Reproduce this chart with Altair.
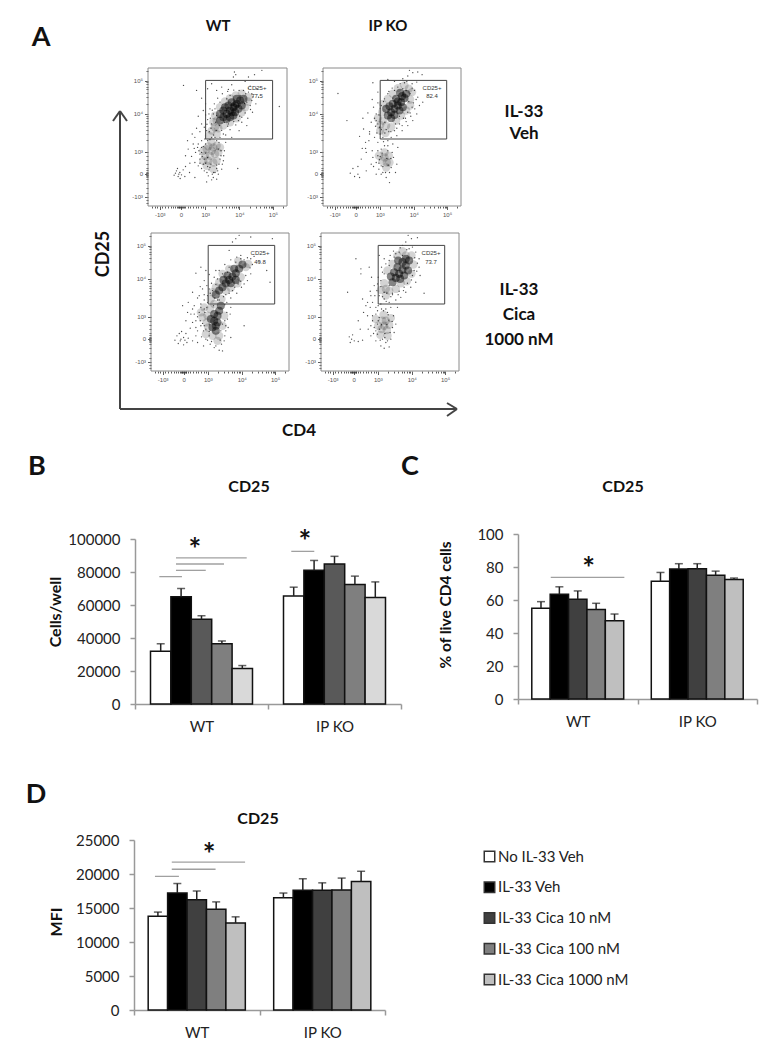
import altair as alt

W, H = 759, 1034
FONT = "Lato"

GROUPS = ["WT", "IP KO"]
TREATMENTS = ["No IL-33 Veh", "IL-33 Veh", "IL-33 Cica 10 nM", "IL-33 Cica 100 nM", "IL-33 Cica 1000 nM"]
COLORS_B = ["#ffffff", "#000000", "#595959", "#7f7f7f", "#d9d9d9"]
COLORS_CD = ["#ffffff", "#000000", "#404040", "#7f7f7f", "#bfbfbf"]

B_MEAN = [32000, 65000, 51300, 36500, 21500, 65500, 81000, 84800, 72500, 64500]
B_HIGH = [36500, 70000, 53500, 38200, 23300, 70800, 87000, 89500, 77500, 74000]
C_MEAN = [55, 63.5, 60.5, 54.3, 47.5, 71.3, 78.8, 79, 75, 72.5]
C_HIGH = [59, 68, 65.5, 58, 51.5, 76.7, 82, 82, 77.5, 73.3]
D_MEAN = [13800, 17200, 16200, 14800, 12800, 16500, 17600, 17600, 17650, 18900]
D_HIGH = [14400, 18600, 17500, 15900, 13700, 17200, 19300, 18700, 19400, 20400]

# significance lines: start, end (in group widths from the axis), height in axis units
B_SIG = [(.308, .84, 88500), (.308, .669, 84850), (.308, .532, 81000), (.183, .353, 77200), (1.175, 1.348, 92500)]
B_STARS = [(.451, 95750), (1.278, 100600)]
C_SIG = [(.274, .89, 73.7)]
C_STARS = [(.592, 81)]
D_SIG = [(.301, .885, 21760), (.301, .65, 20700), (.167, .358, 19650)]
D_STARS = [(.598, 23400)]

# flow cytometry, in plot channel units
X_MAJOR = {35: "-10³", 98: "0", 171: "10³", 273: "10⁴", 373: "10⁵"}
Y_MAJOR = {27: "-10³", 96: "0", 162: "10³", 275: "10⁴", 374: "10⁵"}
X_TICKS = [12, 20, 28, 35, 43, 52, 60, 68, 76, 82, 86, 90, 92, 94, 96, 98, 100, 102, 104, 106, 110, 118, 126, 134, 142, 150, 158, 165, 171, 202, 220, 233, 243, 251, 258, 264, 269, 273, 304, 322, 335, 345, 353, 360, 366, 370, 373, 403]
Y_TICKS = [10, 18, 27, 40, 55, 70, 80, 86, 90, 92, 94, 96, 98, 100, 102, 106, 112, 125, 138, 150, 162, 196, 215, 228, 238, 247, 255, 262, 269, 275, 305, 325, 338, 348, 356, 363, 369, 374, 404]
GATE = [{"x": 172, "x2": 372, "y": 200, "y2": 375}]
FRAME = [{"x": 0, "x2": 415, "y": 0, "y2": 412}]

P1_CORE = [(215, 255), (225, 265), (235, 275), (245, 285), (255, 295), (265, 305), (275, 315), (240, 300), (260, 280), (225, 285), (250, 310), (270, 290), (235, 260), (215, 275), (285, 320), (255, 270), (230, 295), (245, 265), (265, 320), (280, 300), (260, 300), (250, 280)]
P1_MID = [(200, 235), (190, 225), (205, 215), (182, 210), (175, 170), (185, 150), (195, 130), (190, 165), (200, 155), (180, 135), (195, 110), (205, 180), (190, 190), (170, 150), (300, 325), (205, 255), (290, 295), (200, 270), (215, 295), (230, 312), (245, 322), (262, 330), (280, 335), (298, 312), (280, 280), (265, 262), (245, 250), (225, 240), (210, 232), (195, 250), (165, 165), (180, 178), (210, 160), (205, 135), (175, 120), (165, 135), (215, 175), (195, 175)]
P1_DOTS = [(258, 400), (262, 392), (255, 385), (300, 385), (318, 392), (340, 405), (290, 372), (106, 360), (145, 345), (178, 350), (190, 365), (205, 345), (220, 355), (240, 348), (250, 362), (272, 345), (305, 358), (325, 350), (310, 335), (330, 325), (322, 305), (312, 280), (298, 262), (280, 250), (262, 242), (245, 228), (232, 212), (250, 205), (272, 225), (295, 240), (160, 322), (172, 305), (165, 285), (150, 268), (172, 272), (185, 290), (178, 258), (160, 245), (145, 232), (132, 215), (118, 195), (140, 205), (155, 222), (168, 235), (120, 170), (135, 185), (148, 175), (160, 195), (130, 148), (142, 160), (155, 140), (165, 125), (150, 120), (140, 130), (168, 105), (180, 90), (195, 85), (210, 95), (220, 110), (225, 135), (228, 165), (232, 190), (215, 205), (218, 150), (212, 125), (200, 100), (185, 115), (160, 160), (170, 200), (150, 185), (175, 225), (190, 245), (205, 195), (225, 215), (240, 245), (78, 92), (85, 105), (90, 88), (95, 100), (88, 112), (100, 93), (105, 108), (82, 98), (96, 82), (110, 88), (92, 95), (112, 118), (124, 100), (140, 85), (175, 72), (205, 80), (268, 112), (392, 297), (245, 330), (285, 345), (300, 340), (295, 310), (310, 315), (235, 320), (215, 310), (200, 290), (205, 270), (195, 275), (280, 265), (270, 255), (305, 300), (190, 205), (178, 195), (165, 178), (210, 170), (215, 140), (168, 140), (178, 118), (192, 95), (205, 112), (155, 155), (138, 172), (125, 128), (112, 150),
           (186, 262), (192, 286), (198, 305), (208, 322), (222, 335), (238, 342), (256, 346), (292, 335), (314, 326), (306, 288), (290, 278), (274, 268), (256, 252), (238, 238), (220, 226), (204, 226), (188, 232), (176, 244), (183, 222), (196, 212), (212, 242), (228, 250), (182, 275), (202, 250), (214, 240), (300, 352), (275, 330), (288, 306), (160, 175), (152, 165), (172, 158), (178, 145), (162, 148), (155, 128), (172, 128), (188, 125), (205, 122), (222, 125), (226, 150), (218, 165), (212, 190), (200, 205), (185, 198), (172, 185), (182, 108), (196, 100), (208, 105), (190, 78), (176, 100), (160, 112)]

P2_CORE = [(195, 270), (205, 280), (215, 290), (225, 300), (235, 310), (245, 322), (210, 305), (230, 285), (220, 320), (240, 295), (190, 290), (250, 335), (205, 262), (232, 338), (215, 272), (225, 312), (200, 298), (238, 328)]
P2_MID = [(180, 255), (172, 242), (190, 240), (205, 235), (165, 262), (258, 350), (262, 318), (178, 280), (185, 145), (192, 130), (178, 135), (190, 115), (185, 160), (198, 150), (220, 255), (235, 270), (250, 285), (262, 300), (180, 305), (195, 320), (210, 335), (225, 352), (245, 360), (268, 340), (172, 225), (188, 218), (168, 150), (200, 130)]
P2_DOTS = [(260, 405), (270, 398), (255, 388), (285, 400), (298, 392), (240, 380), (245, 368), (268, 365), (282, 370), (215, 372), (195, 378), (165, 340), (150, 368), (45, 336), (148, 318), (165, 308), (152, 295), (135, 278), (120, 262), (72, 255), (145, 250), (158, 238), (140, 222), (122, 230), (110, 208), (128, 190), (118, 172), (138, 195), (155, 205), (172, 215), (186, 218), (205, 205), (222, 210), (238, 225), (255, 240), (270, 255), (282, 275), (290, 300), (285, 325), (275, 345), (300, 310), (262, 278), (248, 262), (230, 245), (215, 225), (198, 222), (180, 205), (165, 190), (148, 165), (130, 160), (115, 140), (105, 118), (90, 112), (82, 98), (95, 88), (110, 85), (130, 105), (145, 125), (150, 145), (160, 130), (168, 110), (175, 95), (190, 85), (200, 70), (218, 100), (222, 125), (212, 145), (225, 175), (210, 185), (195, 195), (185, 180), (175, 170), (165, 150), (180, 100), (205, 115), (160, 95), (175, 120), (195, 165), (140, 215), (170, 235), (185, 320), (175, 300), (195, 335), (215, 345), (225, 355), (240, 350), (262, 335), (255, 280), (268, 295), (272, 308), (200, 100), (152, 118), (105, 95), (128, 172), (230, 268), (160, 275),
           (160, 255), (168, 272), (172, 292), (182, 312), (198, 342), (208, 352), (232, 365), (252, 372), (268, 352), (280, 318), (276, 290), (264, 268), (250, 252), (238, 240), (222, 232), (204, 222), (190, 228), (176, 228), (162, 218), (155, 262), (165, 245), (186, 250), (242, 262), (218, 245), (258, 312), (250, 345), (210, 322), (178, 158), (170, 138), (165, 165), (196, 122), (204, 142), (180, 118), (188, 100), (172, 148), (208, 160), (195, 180), (182, 192), (168, 128), (192, 142)]

P3_CORE = [(195, 228), (205, 240), (215, 250), (225, 262), (235, 272), (245, 282), (255, 292), (265, 305), (218, 272), (240, 262), (250, 305), (275, 318), (190, 150), (195, 135), (200, 165), (185, 130), (205, 180), (195, 120), (210, 195), (180, 155), (230, 285), (255, 272), (190, 170), (200, 145)]
P3_MID = [(170, 165), (178, 185), (190, 200), (172, 130), (205, 105), (200, 90), (185, 105), (220, 165), (212, 215), (180, 215), (285, 310), (292, 320), (270, 280), (205, 265), (168, 145), (155, 160), (225, 240), (240, 248), (260, 262), (195, 250), (215, 290), (235, 305), (262, 328), (160, 190), (150, 175), (215, 135), (165, 110), (185, 235)]
P3_DOTS = [(265, 405), (255, 395), (245, 385), (300, 400), (365, 395), (235, 360), (270, 345), (290, 338), (310, 342), (325, 328), (305, 318), (300, 290), (290, 270), (272, 250), (258, 232), (240, 218), (228, 205), (150, 310), (135, 292), (165, 300), (175, 288), (160, 270), (148, 252), (125, 235), (160, 228), (140, 218), (112, 205), (95, 195), (130, 195), (150, 200), (160, 185), (120, 170), (105, 150), (135, 150), (118, 128), (140, 120), (152, 102), (125, 90), (165, 95), (178, 80), (190, 70), (205, 62), (212, 80), (222, 105), (232, 130), (238, 170), (240, 190), (358, 265), (348, 300), (280, 135), (72, 92), (78, 105), (85, 112), (92, 118), (105, 112), (112, 98), (108, 85), (98, 78), (82, 82), (90, 95), (98, 100), (88, 90), (102, 92), (150, 135), (165, 125), (175, 105), (145, 175), (130, 170), (225, 135), (230, 155), (215, 140), (170, 205), (185, 240), (175, 245), (168, 255), (200, 275), (195, 258), (230, 295), (215, 290), (235, 310), (255, 325), (270, 335), (300, 335), (280, 260), (262, 260), (245, 240), (225, 228), (220, 90), (240, 100), (215, 60), (158, 75), (140, 85), (195, 300), (125, 145), (135, 105), (155, 142), (110, 175), (145, 225), (155, 245),
           (182, 262), (190, 280), (205, 300), (222, 318), (240, 332), (258, 340), (280, 332), (298, 308), (285, 285), (270, 268), (252, 250), (235, 232), (218, 222), (200, 212), (178, 232), (170, 225), (160, 212), (150, 190), (140, 162), (148, 150), (158, 120), (170, 92), (182, 88), (195, 75), (208, 92), (225, 120), (222, 150), (228, 175), (222, 198), (205, 212), (192, 218), (162, 175), (168, 190), (175, 140), (210, 120), (188, 195), (160, 135), (175, 118), (135, 130), (125, 185)]

P4_CORE = [(215, 265), (225, 278), (235, 290), (245, 302), (255, 315), (265, 330), (230, 310), (250, 285), (220, 295), (245, 325), (262, 300), (210, 282), (238, 275), (232, 330), (255, 335)]
P4_MID = [(195, 245), (205, 240), (225, 245), (240, 262), (190, 262), (200, 300), (272, 345), (278, 318), (255, 345), (190, 135), (198, 122), (182, 125), (195, 150), (185, 150), (200, 105), (205, 138), (178, 108), (258, 268), (272, 290), (215, 320), (230, 345), (245, 358), (195, 225), (180, 242), (172, 135), (210, 158), (188, 168), (165, 155)]
P4_DOTS = [(262, 405), (272, 395), (255, 385), (245, 375), (290, 398), (265, 365), (235, 355), (220, 340), (285, 355), (295, 335), (295, 310), (298, 285), (285, 265), (270, 250), (255, 235), (240, 220), (225, 212), (205, 205), (190, 215), (175, 225), (180, 270), (185, 295), (195, 320), (175, 345), (190, 290), (105, 335), (120, 305), (145, 310), (152, 280), (160, 255), (148, 238), (140, 205), (125, 215), (80, 235), (155, 205), (165, 190), (128, 175), (112, 150), (118, 125), (140, 165), (155, 165), (170, 180), (195, 185), (210, 190), (230, 190), (310, 232), (218, 165), (225, 140), (220, 115), (210, 95), (195, 85), (180, 75), (165, 90), (150, 105), (142, 125), (160, 130), (155, 150), (170, 140), (170, 110), (85, 102), (92, 95), (88, 85), (95, 108), (100, 90), (112, 88), (125, 92), (190, 68), (205, 72), (120, 290), (280, 300), (275, 285), (260, 262), (235, 238), (210, 222), (190, 235), (170, 260), (205, 330), (225, 350), (245, 345), (180, 200), (200, 175), (175, 160), (215, 130), (185, 95), (200, 90), (165, 120), (148, 190), (135, 195), (150, 225), (205, 255), (275, 370),
           (180, 252), (172, 280), (182, 310), (190, 335), (208, 345), (218, 358), (238, 368), (258, 362), (282, 338), (290, 322), (288, 298), (272, 272), (250, 250), (232, 228), (215, 232), (198, 232), (185, 222), (168, 240), (162, 225), (205, 315), (215, 228), (248, 240), (196, 208), (182, 185), (172, 195), (165, 170), (150, 135), (158, 112), (178, 92), (192, 100), (208, 115), (214, 148), (202, 168), (188, 180), (172, 150), (182, 138), (192, 112), (204, 152), (176, 125), (198, 138)]

TEXTS = [
    ("A", 41, 38, 27, "bold", 0), ("B", 37, 467, 27, "bold", 0), ("C", 410, 467, 27, "bold", 0), ("D", 36, 795, 27, "bold", 0),
    ("WT", 218, 26, 15, "bold", 0), ("IP KO", 388, 26, 15, "bold", 0),
    ("IL-33", 524, 112, 17, "bold", 0), ("Veh", 524, 134, 17, "bold", 0),
    ("IL-33", 519, 290, 17, "bold", 0), ("Cica", 519, 315, 17, "bold", 0), ("1000 nM", 519, 340, 17, "bold", 0),
    ("CD25", 104, 254, 18, "bold", 270), ("CD4", 299, 431, 17, "bold", 0),
    ("CD25", 249, 487, 16, "bold", 0), ("CD25", 623, 487, 16, "bold", 0), ("CD25", 258, 819, 16, "bold", 0),
    ("Cells/well", 56, 612, 16, "bold", 270), ("% of live CD4 cells", 446, 605, 15.5, "bold", 270), ("MFI", 57, 922, 16, "bold", 270),
]
FLOW_NOTES = [("CD25+", 257, 88), ("77.5", 257, 96), ("CD25+", 432, 88), ("82.4", 432, 96),
              ("CD25+", 260, 253), ("49.8", 260, 262), ("CD25+", 431, 253), ("73.7", 431, 262)]
ARROW_SEGMENTS = [(120, 111, 120, 409), (113, 121, 120, 111), (127, 121, 120, 111), (120, 409, 457, 409), (447, 403, 457, 409), (447, 416, 457, 409)]


def label(s, x, y, size, weight="normal", angle=0, color="#111111", font=FONT):
    return alt.Chart(alt.Data(values=[{"t": s}])).mark_text(
        fontSize=size, fontWeight=weight, angle=angle, font=font, color=color,
        align="center", baseline="middle").encode(
        text="t:N", x=alt.value(x - 8), y=alt.value(y - 8))


def bars_panel(mean, high, colors, ymax, yticks, x0, x1, y0, y1, sig, stars, pad, legend=None):
    rows = [{"group": GROUPS[i // 5], "treatment": TREATMENTS[i % 5], "mean": mean[i], "high": high[i]} for i in range(10)]
    data = alt.Data(values=rows)
    xs = alt.Scale(domain=GROUPS, range=[x0 - 8, x1 - 8], paddingInner=0, paddingOuter=0)
    xo = alt.Scale(domain=TREATMENTS, paddingInner=0, paddingOuter=pad)
    ys = alt.Scale(domain=[0, ymax], range=[y0 - 8, y1 - 8], nice=False, zero=False)
    xaxis = alt.Axis(orient="bottom", offset=-(H - (y0 - 8)), title=None, tickBand="extent", labelAngle=0, domainColor="#999999",
                     domainWidth=1.5, tickColor="#999999", tickWidth=1.5, tickSize=5, labelPadding=10, labelFontSize=15,
                     labelFont=FONT, labelColor="#222222", grid=False)
    yaxis = alt.Axis(orient="left", offset=-(x0 - 8), title=None, values=yticks, domainColor="#999999", domainWidth=1.5,
                     tickColor="#999999", tickWidth=1.5, tickSize=5, labelPadding=10, labelFontSize=15, labelFont=FONT,
                     labelColor="#222222", grid=False, format="d")
    bar = alt.Chart(data).mark_bar(stroke="#111111", strokeWidth=1.5).encode(
        x=alt.X("group:N", scale=xs, axis=xaxis),
        xOffset=alt.XOffset("treatment:N", scale=xo),
        y=alt.Y("mean:Q", scale=ys, axis=yaxis),
        color=alt.Color("treatment:N", scale=alt.Scale(domain=TREATMENTS, range=colors), legend=legend))
    err = alt.Chart(data).mark_rule(color="#222222", strokeWidth=1.5).encode(
        x=alt.X("group:N", scale=xs, axis=xaxis),
        xOffset=alt.XOffset("treatment:N", scale=xo),
        y=alt.Y("mean:Q", scale=ys, axis=yaxis), y2="high:Q")
    cap = alt.Chart(data).mark_tick(color="#222222", thickness=1.5, size=8, orient="horizontal").encode(
        x=alt.X("group:N", scale=xs, axis=xaxis),
        xOffset=alt.XOffset("treatment:N", scale=xo),
        y=alt.Y("high:Q", scale=ys, axis=yaxis))
    us = alt.Scale(domain=[0, 2], range=[x0 - 8, x1 - 8], nice=False, zero=False)
    sig_rows = [{"a": a, "b": b, "v": v} for a, b, v in sig]
    star_rows = [{"a": a, "v": v} for a, v in stars]
    lines = alt.Chart(alt.Data(values=sig_rows)).mark_rule(color="#a0a0a0", strokeWidth=1.3).encode(
        x=alt.X("a:Q", scale=us, axis=None), x2="b:Q", y=alt.Y("v:Q", scale=ys, axis=None))
    star = alt.Chart(alt.Data(values=star_rows)).mark_text(text="*", fontSize=30, fontWeight="bold", font=FONT, color="#111111", baseline="middle", dy=5).encode(
        x=alt.X("a:Q", scale=us, axis=None), y=alt.Y("v:Q", scale=ys, axis=None))
    return [alt.layer(bar, err, cap), alt.layer(lines, star)]


def flow_panel(core, mid, dots, x0, x1, y0, y1):
    xs = alt.Scale(domain=[0, 415], range=[x0 - 8, x1 - 8], nice=False, zero=False)
    ys = alt.Scale(domain=[0, 412], range=[y0 - 8, y1 - 8], nice=False, zero=False)
    def axis(orient, offset, values, major):
        expr = " : ".join(f"datum.value == {k} ? '{v}'" for k, v in major.items()) + " : ''"
        test = " || ".join(f"datum.value == {k}" for k in major)
        return alt.Axis(orient=orient, offset=offset, title=None, values=values, domain=False, grid=False, labelExpr=expr,
                        labelFontSize=6, labelFont="Liberation Sans", labelColor="#555555", labelOverlap=False, labelPadding=2,
                        tickColor="#333333", tickWidth=0.8,
                        tickSize={"condition": {"test": test, "value": 3.5}, "value": 2})
    xa = axis("bottom", -(H - (y0 - 8)), X_TICKS, X_MAJOR)
    ya = axis("left", -(x0 - 8), Y_TICKS, Y_MAJOR)
    frame = alt.Chart(alt.Data(values=FRAME)).mark_rect(fillOpacity=0, stroke="#8a8a8a", strokeWidth=1).encode(
        x=alt.X("x:Q", scale=xs, axis=xa), x2="x2:Q", y=alt.Y("y:Q", scale=ys, axis=ya), y2="y2:Q")
    def cloud(points, size, opacity):
        return alt.Chart(alt.Data(values=[{"x": a, "y": b} for a, b in points])).mark_circle(size=size, opacity=opacity, color="#000000").encode(
            x=alt.X("x:Q", scale=xs, axis=xa), y=alt.Y("y:Q", scale=ys, axis=ya))
    gate = alt.Chart(alt.Data(values=GATE)).mark_rect(fillOpacity=0, stroke="#444444", strokeWidth=1).encode(
        x=alt.X("x:Q", scale=xs, axis=xa), x2="x2:Q", y=alt.Y("y:Q", scale=ys, axis=ya), y2="y2:Q")
    return alt.layer(frame, cloud(mid, 70, 0.17), cloud(core, 65, 0.48), cloud(dots, 1.8, 0.7), gate)


legend = alt.Legend(orient="none", legendX=474, legendY=841, title=None, symbolType="square", symbolSize=110,
                    symbolStrokeColor="#333333", symbolStrokeWidth=1.5, labelFont=FONT, labelFontSize=15,
                    labelColor="#222222", rowPadding=13.75, labelOffset=1)

children = []
children += [flow_panel(P1_CORE, P1_MID, P1_DOTS, 148, 287, 206, 68),
             flow_panel(P2_CORE, P2_MID, P2_DOTS, 323, 461, 206, 68),
             flow_panel(P3_CORE, P3_MID, P3_DOTS, 151, 289, 371, 233),
             flow_panel(P4_CORE, P4_MID, P4_DOTS, 321, 459, 371, 233)]
children += bars_panel(B_MEAN, B_HIGH, COLORS_B, 100000, [0, 20000, 40000, 60000, 80000, 100000], 135, 401, 704, 539, B_SIG, B_STARS, 0.76)
children += bars_panel(C_MEAN, C_HIGH, COLORS_CD, 100, [0, 20, 40, 60, 80, 100], 518, 757, 699, 534, C_SIG, C_STARS, 0.75)
children += bars_panel(D_MEAN, D_HIGH, COLORS_CD, 25000, [0, 5000, 10000, 15000, 20000, 25000], 134, 385, 1010, 840, D_SIG, D_STARS, 0.73, legend)

for x1, y1, x2, y2 in ARROW_SEGMENTS:
    children.append(alt.Chart(alt.Data(values=[{"k": 1}])).mark_rule(color="#444444", strokeWidth=2).encode(
        x=alt.value(x1 - 8), y=alt.value(y1 - 8), x2=alt.value(x2 - 8), y2=alt.value(y2 - 8)))
for s, x, y, size, weight, angle in TEXTS:
    children.append(label(s, x, y, size, weight, angle))
for s, x, y in FLOW_NOTES:
    children.append(label(s, x, y, 6, "normal", 0, "#333333", "Liberation Sans"))

chart = alt.layer(*children).resolve_scale(x="independent", y="independent", color="independent", xOffset="independent").properties(
    width=W, height=H, padding=0, background="#ffffff",
    autosize=alt.AutoSizeParams(type="none", contains="padding")
).configure_view(stroke=None)

chart.save("out.html", embed_options={"renderer": "svg", "actions": False})
